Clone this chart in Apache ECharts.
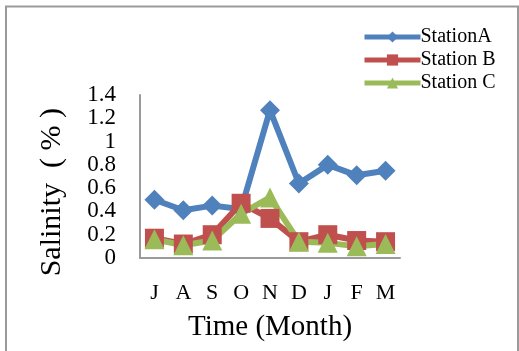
<!DOCTYPE html>
<html>
<head>
<meta charset="utf-8">
<script src="https://cdn.jsdelivr.net/npm/echarts@6/dist/echarts.min.js"></script>
<style>
  html, body { margin: 0; padding: 0; background: #fff; }
  #chart { width: 519px; height: 351px; }
</style>
</head>
<body>
<div id="chart"></div>
<script>
// Monthly salinity at three stations
const months = ['J', 'A', 'S', 'O', 'N', 'D', 'J', 'F', 'M'];
const stationA = [0.50, 0.41, 0.45, 0.42, 1.27, 0.64, 0.80, 0.71, 0.75];
const stationB = [0.17, 0.12, 0.20, 0.47, 0.34, 0.14, 0.20, 0.15, 0.14];
const stationC = [0.16, 0.11, 0.15, 0.38, 0.52, 0.14, 0.13, 0.10, 0.12];

const serif = '"Liberation Serif", "Times New Roman", serif';

const chart = echarts.init(document.getElementById('chart'));

function line(name, data, color, symbol, size) {
  return {
    name: name,
    type: 'line',
    data: data,
    symbol: symbol,
    symbolSize: size,
    lineStyle: { color: color, width: 6 },
    itemStyle: { color: color },
    z: 2
  };
}

chart.setOption({
  animation: false,
  backgroundColor: '#fff',
  graphic: [
    {
      // frame around the chart area (open at the bottom)
      type: 'polyline',
      shape: { points: [[6, 351], [6, 6.5], [518, 6.5], [518, 351]] },
      style: { fill: 'none', stroke: '#9a9a9a', lineWidth: 2 },
      silent: true
    },
    {
      type: 'text',
      left: 37,
      top: 108,
      rotation: Math.PI / 2,
      style: {
        text: 'Salinity  ( % )',
        font: '30px ' + serif,
        fill: '#000'
      },
      silent: true
    }
  ],
  legend: {
    top: 22,
    left: 357,
    orient: 'vertical',
    itemGap: 3,
    itemWidth: 56,
    itemHeight: 14,
    lineStyle: { width: 5 },
    textStyle: { fontFamily: serif, fontSize: 20, color: '#000', padding: [0, 0, 0, -5] },
    data: ['StationA', 'Station B', 'Station C']
  },
  grid: { left: 140, right: 119, top: 95, bottom: 93 },
  xAxis: {
    type: 'category',
    data: months,
    boundaryGap: true,
    name: 'Time (Month)',
    nameLocation: 'middle',
    nameGap: 55,
    nameTextStyle: { fontFamily: serif, fontSize: 29, color: '#000' },
    axisLine: { lineStyle: { color: '#9a9a9a', width: 2 } },
    axisTick: { show: false },
    axisLabel: { fontFamily: serif, fontSize: 22, color: '#000', margin: 24 }
  },
  yAxis: {
    type: 'value',
    min: 0,
    max: 1.4,
    interval: 0.2,
    axisLine: { show: true, lineStyle: { color: '#9a9a9a', width: 2 } },
    axisTick: { show: false },
    splitLine: { show: false },
    axisLabel: {
      fontFamily: serif, fontSize: 23, lineHeight: 16, color: '#000', margin: 24,
      showMinLabel: true, showMaxLabel: true, hideOverlap: false
    }
  },
  series: [
    line('StationA', stationA, '#4F81BD', 'diamond', 20),
    line('Station B', stationB, '#C0504D', 'rect', 19),
    line('Station C', stationC, '#9BBB59', 'triangle', 20)
  ]
});
</script>
</body>
</html>
